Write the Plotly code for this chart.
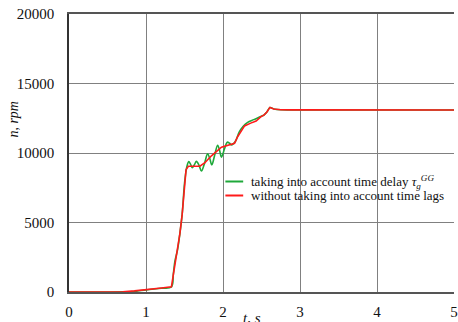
import plotly.graph_objects as go

# Rotor speed n (rpm) versus time t (s)
t_lag = [0.0, 0.5, 0.7, 0.85, 1.0, 1.2, 1.33, 1.355, 1.375, 1.41, 1.44, 1.47, 1.50,
         1.52, 1.55, 1.615, 1.70, 1.765, 1.85, 1.98, 2.08, 2.15, 2.19, 2.23, 2.28,
         2.36, 2.43, 2.49, 2.535, 2.57, 2.61, 2.66, 2.75, 2.9, 3.5, 4.0, 4.5, 5.0]
n_lag = [0, 0, 20, 80, 190, 290, 370, 1200, 2000, 3000, 4200, 5600, 7800,
         8800, 9050, 9050, 9050, 9300, 9800, 10420, 10600, 10700, 11170, 11500, 11950,
         12150, 12300, 12600, 12740, 12950, 13280, 13170, 13110, 13100, 13090, 13090, 13090, 13090]

t_delay = [0.0, 0.5, 0.7, 0.85, 1.0, 1.2, 1.33, 1.355, 1.375, 1.41, 1.44, 1.47, 1.50,
           1.53, 1.555, 1.578, 1.60, 1.628, 1.655, 1.69, 1.72, 1.76, 1.80, 1.828, 1.855,
           1.89, 1.93, 1.955, 1.98, 2.02, 2.055, 2.085, 2.11, 2.16,
           2.21, 2.26, 2.32, 2.40, 2.49, 2.535, 2.57, 2.61, 2.66, 2.75, 2.9, 3.5, 4.0, 4.5, 5.0]
n_delay = [0, 0, 10, 40, 150, 270, 360, 1300, 2200, 3050, 4200, 5600, 7800,
           9000, 9380, 9200, 8950, 9150, 9400, 9100, 8700, 9250, 9950, 9600, 9150,
           9800, 10560, 10200, 9700, 10300, 10780, 10700, 10580, 10830,
           11500, 11900, 12200, 12400, 12620, 12750, 12950, 13270, 13170, 13110, 13100, 13090, 13090, 13090, 13090]

x_ticks = [0, 1, 2, 3, 4, 5]
y_ticks = [0, 5000, 10000, 15000, 20000]

legend_labels = ["taking into account time delay <i>τ<sub>g</sub><sup>GG</sup></i>",
                 "without taking into account time lags"]
line_colors = ["#1fa83a", "#ff1a1a"]

FONT = "Times New Roman, Liberation Serif, DejaVu Serif, serif"
TEXT = "#111"

fig = go.Figure()
fig.add_trace(go.Scatter(x=t_delay, y=n_delay, mode="lines", name=legend_labels[0],
                         line=dict(color=line_colors[0], width=1.6, shape="spline", smoothing=1.0)))
fig.add_trace(go.Scatter(x=t_lag, y=n_lag, mode="lines", name=legend_labels[1],
                         line=dict(color=line_colors[1], width=1.6)))

# Hand-placed legend: short line samples with text to their right
legend_y_px = [181.5, 195.5]
for label, color, ypx in zip(legend_labels, line_colors, legend_y_px):
    yp = (292 - ypx) / 278
    fig.add_shape(type="line", xref="paper", yref="paper",
                  x0=(227 - 69) / 389, x1=(245 - 69) / 389, y0=yp, y1=yp,
                  line=dict(color=color, width=2))
    fig.add_annotation(xref="paper", yref="paper", x=(251 - 69) / 389, y=yp,
                       text=label, showarrow=False, xanchor="left", yanchor="middle",
                       font=dict(family=FONT, size=13, color=TEXT))

# Axis titles
fig.add_annotation(xref="paper", yref="paper", x=(12 - 69) / 389, y=(292 - 119) / 278,
                   text="<i>n, rpm</i>", textangle=-90, showarrow=False,
                   xanchor="center", yanchor="middle",
                   font=dict(family=FONT, size=14, color=TEXT))
fig.add_annotation(xref="paper", yref="paper", x=(254 - 69) / 389, y=(292 - 318) / 278,
                   text="<i>t, s</i>", showarrow=False, xanchor="center", yanchor="middle",
                   font=dict(family=FONT, size=15, color=TEXT))

fig.update_layout(
    width=458, height=322,
    margin=dict(l=69, r=0, t=14, b=30),
    paper_bgcolor="white", plot_bgcolor="white",
    showlegend=False,
    font=dict(family=FONT, size=15, color=TEXT),
)
fig.update_xaxes(range=[0, 5], tickvals=x_ticks, ticktext=[str(v) for v in x_ticks],
                 showgrid=True, gridcolor="#808080", gridwidth=1.4,
                 zeroline=False, showline=True, linecolor="#555", linewidth=1.5, mirror=True,
                 ticks="", ticklabelstandoff=5, ticklabeloverflow="allow",
                 tickfont=dict(family=FONT, size=15, color=TEXT))
fig.update_yaxes(range=[0, 20000], tickvals=y_ticks, ticktext=[str(v) for v in y_ticks],
                 showgrid=True, gridcolor="#808080", gridwidth=1.4,
                 zeroline=False, showline=True, linecolor="#333", linewidth=1.5,
                 ticks="", ticklabelstandoff=10,
                 tickfont=dict(family=FONT, size=15, color=TEXT))

fig.write_html("out.html")
